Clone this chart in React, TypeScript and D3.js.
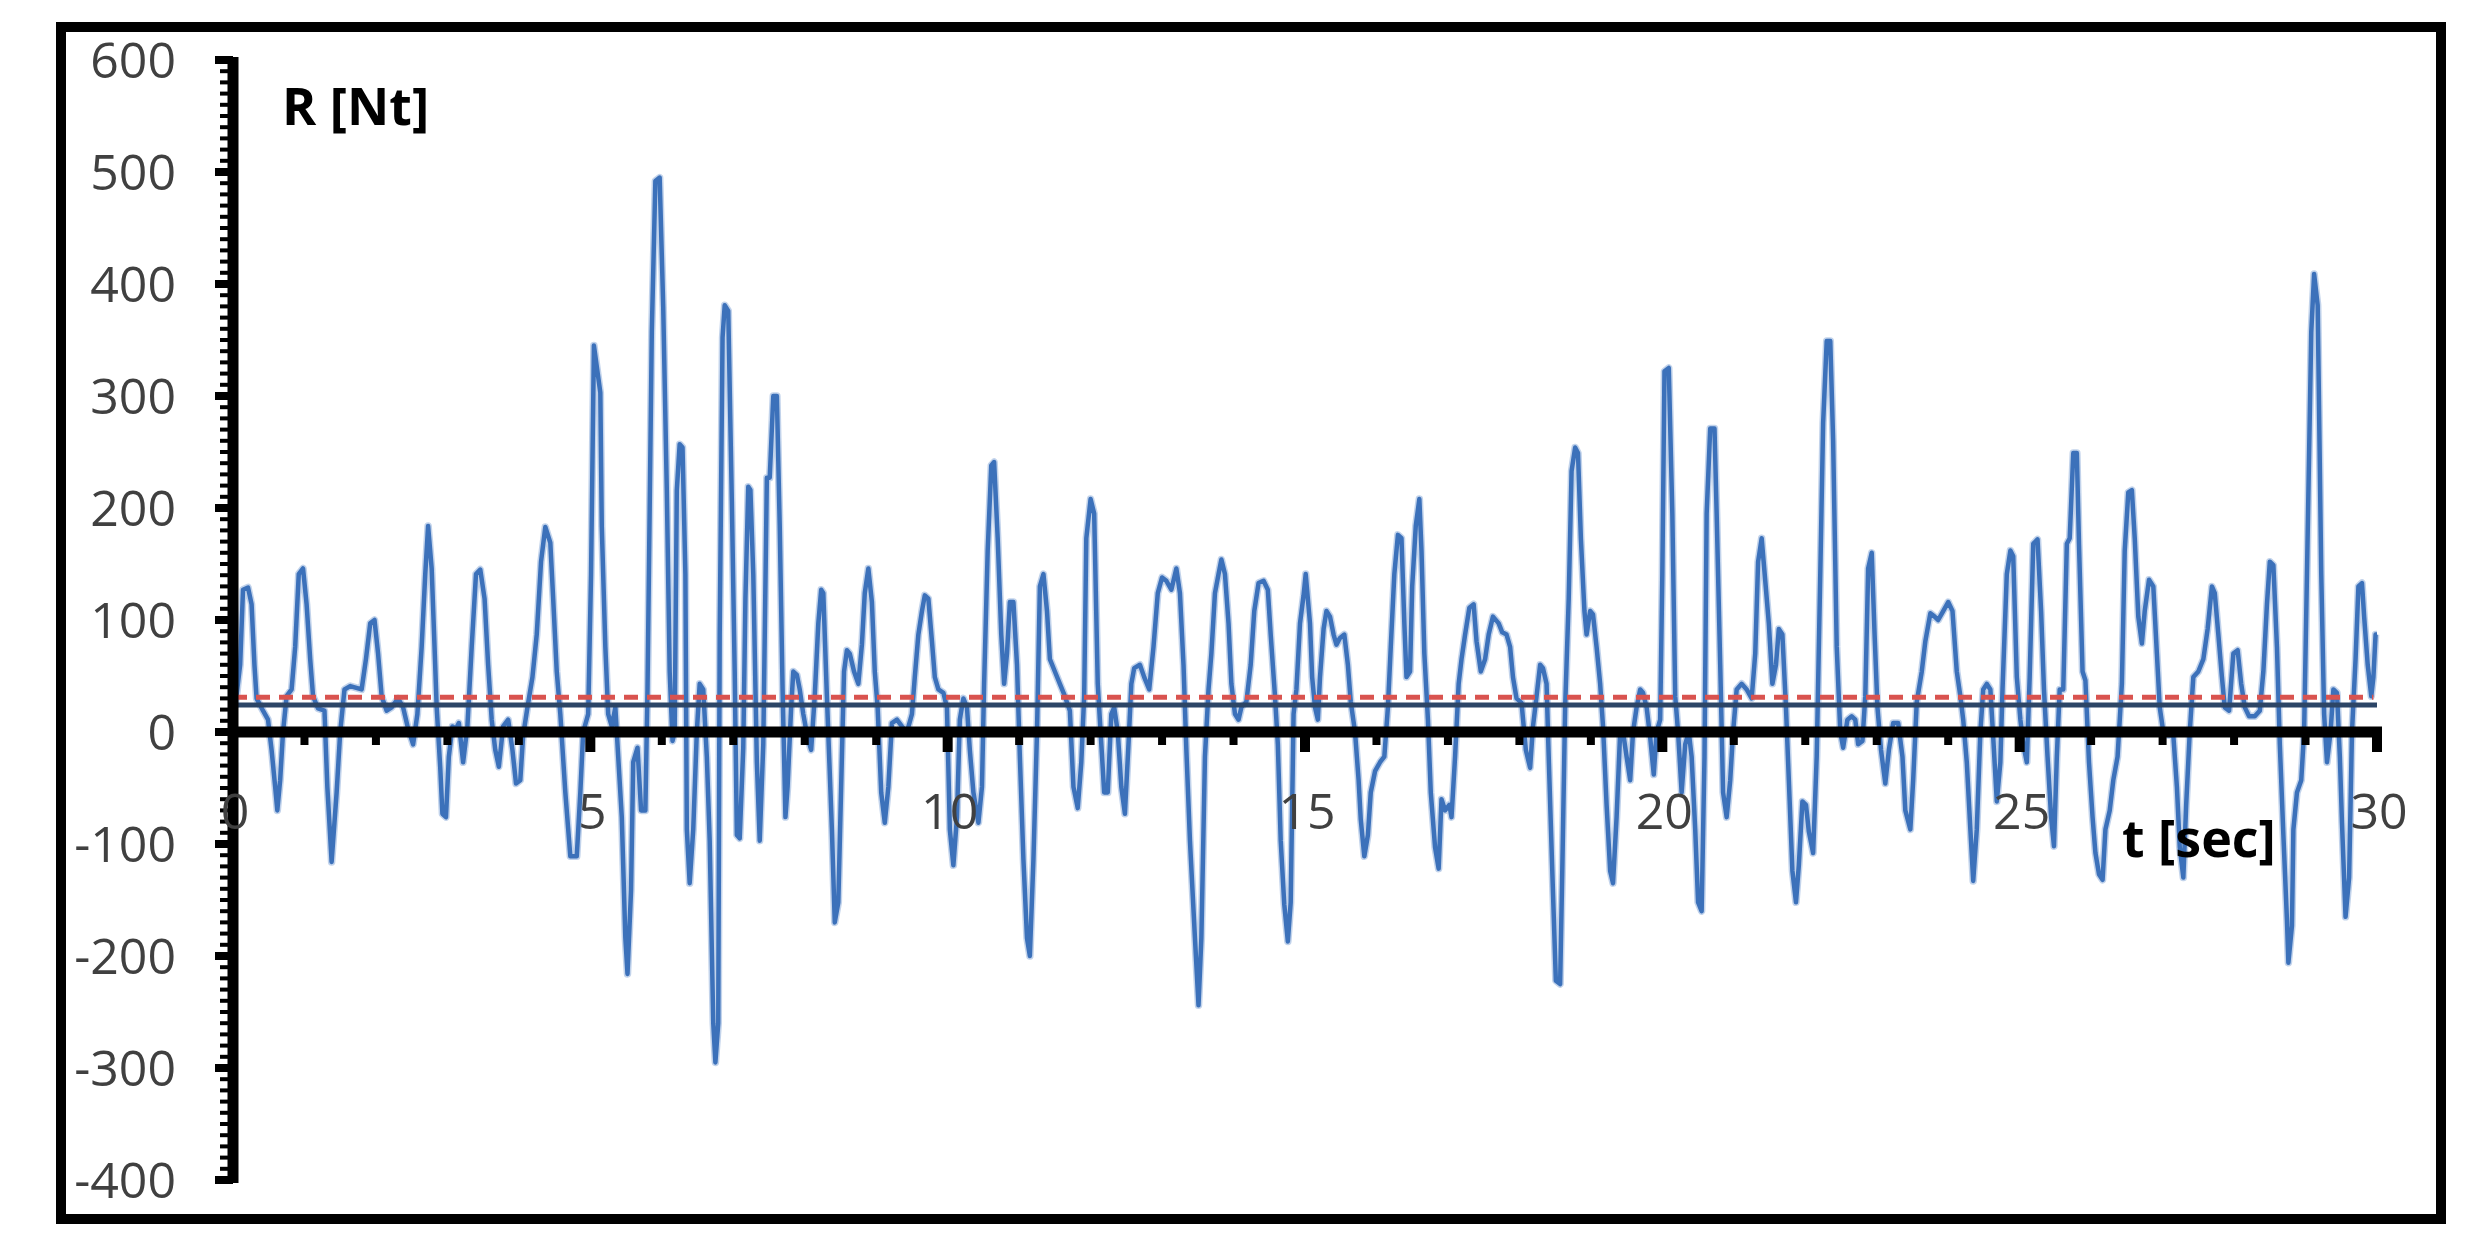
import React from "react";
import * as d3 from "d3";

type Pt = [number, number];

// R [Nt] vs t [sec], in 5-second pieces
const seg00to05: Pt[] = [[0.03,22],[0.10,60],[0.14,127],[0.21,129],[0.26,114],[0.30,60],[0.33,30],[0.42,19],[0.49,11],[0.54,-16],[0.59,-49],[0.62,-70],[0.66,-43],[0.70,0],[0.75,32],[0.82,38],[0.87,76],[0.92,141],[0.98,146],[1.03,114],[1.08,65],[1.12,32],[1.19,21],[1.28,19],[1.32,-49],[1.38,-116],[1.45,-54],[1.50,0],[1.56,38],[1.64,41],[1.80,38],[1.86,65],[1.92,97],[1.98,100],[2.03,70],[2.08,32],[2.15,19],[2.22,22],[2.31,30],[2.38,22],[2.45,3],[2.52,-11],[2.58,16],[2.64,76],[2.69,141],[2.73,184],[2.78,146],[2.82,76],[2.85,22],[2.90,-32],[2.93,-73],[2.98,-76],[3.02,-22],[3.07,5],[3.12,3],[3.16,8],[3.22,-27],[3.28,5],[3.34,76],[3.40,141],[3.46,145],[3.52,119],[3.57,60],[3.62,11],[3.67,-16],[3.72,-31],[3.78,5],[3.85,11],[3.91,-16],[3.96,-46],[4.02,-43],[4.06,-3],[4.12,22],[4.19,49],[4.25,87],[4.31,152],[4.37,183],[4.44,169],[4.48,119],[4.53,54],[4.58,16],[4.65,-54],[4.72,-111],[4.81,-111],[4.86,-54],[4.90,0],[4.97,16],[5.01,141]];

const seg05to10: Pt[] = [[5.05,345],[5.14,303],[5.16,184],[5.21,76],[5.25,16],[5.30,5],[5.35,22],[5.39,-22],[5.44,-76],[5.49,-184],[5.52,-216],[5.57,-141],[5.60,-27],[5.66,-14],[5.71,-70],[5.77,-70],[5.80,38],[5.86,357],[5.91,492],[5.97,495],[6.02,379],[6.07,216],[6.11,54],[6.15,-8],[6.18,0],[6.21,216],[6.25,257],[6.29,254],[6.33,141],[6.35,-87],[6.39,-135],[6.44,-87],[6.49,0],[6.53,43],[6.58,38],[6.63,-22],[6.67,-97],[6.72,-260],[6.75,-295],[6.79,-260],[6.81,87],[6.85,352],[6.88,381],[6.93,376],[6.98,206],[7.02,54],[7.05,-92],[7.09,-95],[7.14,-14],[7.17,119],[7.21,219],[7.24,216],[7.28,141],[7.33,-27],[7.37,-97],[7.42,-11],[7.47,227],[7.51,227],[7.56,300],[7.61,300],[7.65,184],[7.69,38],[7.73,-76],[7.76,-49],[7.81,22],[7.84,54],[7.89,51],[7.93,38],[7.98,16],[8.04,-5],[8.09,-16],[8.14,32],[8.19,97],[8.23,127],[8.26,124],[8.31,32],[8.38,-87],[8.42,-170],[8.47,-152],[8.52,-22],[8.55,54],[8.59,73],[8.63,70],[8.69,54],[8.75,43],[8.80,78],[8.84,124],[8.89,146],[8.94,116],[8.98,54],[9.02,22],[9.07,-54],[9.12,-81],[9.17,-49],[9.22,8],[9.29,11],[9.36,5],[9.43,0],[9.50,16],[9.54,49],[9.59,87],[9.64,108],[9.68,122],[9.73,119],[9.78,81],[9.82,49],[9.87,38],[9.94,35],[9.99,22]];

const seg10to15: Pt[] = [[10.03,-87],[10.08,-119],[10.13,-76],[10.17,11],[10.22,30],[10.27,22],[10.31,-16],[10.36,-54],[10.43,-81],[10.48,-49],[10.51,43],[10.56,162],[10.61,238],[10.65,241],[10.70,173],[10.75,87],[10.79,43],[10.83,70],[10.87,116],[10.92,116],[10.97,60],[11.01,-22],[11.06,-114],[11.11,-184],[11.15,-200],[11.20,-114],[11.25,0],[11.29,130],[11.34,141],[11.39,108],[11.43,65],[11.50,54],[11.57,43],[11.64,32],[11.71,19],[11.76,-49],[11.82,-68],[11.87,-27],[11.91,32],[11.94,173],[12.00,208],[12.05,195],[12.10,43],[12.14,0],[12.19,-54],[12.24,-54],[12.29,16],[12.33,22],[12.38,0],[12.43,-49],[12.48,-73],[12.53,-11],[12.57,43],[12.61,57],[12.69,60],[12.75,49],[12.82,38],[12.88,76],[12.94,124],[13.00,138],[13.06,135],[13.13,127],[13.20,146],[13.25,124],[13.30,60],[13.34,-16],[13.39,-97],[13.46,-184],[13.51,-244],[13.55,-184],[13.60,-22],[13.65,38],[13.69,70],[13.74,124],[13.79,141],[13.83,154],[13.88,141],[13.93,97],[13.97,43],[14.02,16],[14.07,11],[14.11,22],[14.18,27],[14.24,60],[14.29,108],[14.35,133],[14.42,135],[14.48,127],[14.52,87],[14.58,32],[14.62,-11],[14.66,-97],[14.71,-154],[14.76,-187],[14.80,-152],[14.84,16],[14.88,38],[14.93,97],[14.98,122],[15.01,141]];

const seg15to20: Pt[] = [[15.07,97],[15.10,49],[15.14,22],[15.18,11],[15.21,49],[15.26,92],[15.30,108],[15.35,103],[15.40,87],[15.44,78],[15.49,84],[15.55,87],[15.60,60],[15.64,27],[15.70,0],[15.75,-43],[15.78,-78],[15.83,-111],[15.88,-92],[15.92,-54],[15.98,-35],[16.05,-27],[16.11,-22],[16.16,22],[16.20,76],[16.25,141],[16.30,176],[16.35,173],[16.39,97],[16.42,49],[16.47,54],[16.50,130],[16.55,184],[16.60,208],[16.63,162],[16.67,70],[16.72,11],[16.76,-54],[16.82,-103],[16.87,-122],[16.91,-60],[16.96,-70],[17.02,-65],[17.05,-76],[17.10,-22],[17.15,43],[17.19,65],[17.24,87],[17.30,111],[17.36,114],[17.40,81],[17.46,54],[17.52,65],[17.57,87],[17.63,103],[17.71,97],[17.76,89],[17.82,87],[17.87,76],[17.91,49],[17.96,30],[18.03,26],[18.09,-16],[18.15,-32],[18.19,5],[18.24,32],[18.29,60],[18.33,57],[18.38,43],[18.41,-22],[18.46,-124],[18.51,-222],[18.57,-225],[18.60,-124],[18.64,22],[18.69,119],[18.73,233],[18.78,254],[18.82,249],[18.86,173],[18.91,108],[18.94,87],[18.99,108],[19.03,105],[19.08,76],[19.13,43],[19.17,5],[19.22,-65],[19.27,-124],[19.31,-135],[19.36,-76],[19.41,0],[19.45,0],[19.50,-22],[19.55,-43],[19.59,0],[19.64,22],[19.69,38],[19.73,35],[19.78,22],[19.83,-5],[19.88,-38],[19.92,0],[19.97,11],[20.00,141],[20.03,322],[20.09,325]];

const seg20to25: Pt[] = [[20.14,195],[20.18,32],[20.22,0],[20.27,-54],[20.32,-11],[20.37,0],[20.41,-22],[20.46,-87],[20.50,-152],[20.55,-160],[20.59,-22],[20.62,195],[20.67,271],[20.73,271],[20.76,195],[20.81,60],[20.85,-54],[20.90,-76],[20.95,-43],[20.99,0],[21.04,38],[21.11,43],[21.18,38],[21.25,30],[21.30,70],[21.34,152],[21.39,173],[21.44,135],[21.49,97],[21.54,43],[21.59,60],[21.63,92],[21.68,87],[21.73,22],[21.77,-43],[21.82,-124],[21.87,-152],[21.91,-119],[21.96,-62],[22.01,-65],[22.05,-89],[22.11,-108],[22.16,-22],[22.21,141],[22.25,276],[22.30,349],[22.35,349],[22.39,260],[22.44,76],[22.49,0],[22.53,-14],[22.59,11],[22.65,14],[22.70,11],[22.74,-11],[22.80,-8],[22.84,32],[22.88,146],[22.93,160],[22.97,87],[23.01,22],[23.06,-16],[23.12,-46],[23.17,-16],[23.23,8],[23.30,8],[23.36,-22],[23.40,-70],[23.47,-87],[23.51,-43],[23.56,27],[23.63,54],[23.68,81],[23.75,106],[23.81,103],[23.86,100],[23.93,108],[24.00,116],[24.06,108],[24.12,54],[24.17,32],[24.21,11],[24.26,-27],[24.31,-87],[24.35,-133],[24.40,-87],[24.45,0],[24.49,38],[24.54,43],[24.59,38],[24.63,-5],[24.68,-62],[24.73,-27],[24.76,38],[24.82,141],[24.87,162],[24.91,157],[24.96,49],[25.01,11],[25.05,-11],[25.10,-27],[25.14,49],[25.19,168]];

const seg25to30: Pt[] = [[25.25,172],[25.30,108],[25.34,38],[25.39,-22],[25.44,-76],[25.48,-102],[25.52,-22],[25.56,38],[25.61,38],[25.66,168],[25.70,173],[25.75,249],[25.80,249],[25.83,168],[25.88,54],[25.92,46],[25.97,-27],[26.02,-76],[26.06,-108],[26.11,-127],[26.16,-132],[26.20,-87],[26.26,-70],[26.31,-43],[26.37,-22],[26.43,43],[26.47,162],[26.52,214],[26.57,216],[26.61,173],[26.66,103],[26.71,79],[26.75,108],[26.81,136],[26.87,130],[26.92,70],[26.96,22],[27.01,0],[27.08,-3],[27.15,-3],[27.20,-49],[27.24,-103],[27.29,-130],[27.33,-65],[27.38,0],[27.43,49],[27.50,54],[27.57,65],[27.63,92],[27.69,130],[27.73,124],[27.78,87],[27.83,49],[27.87,22],[27.93,19],[27.99,70],[28.05,73],[28.10,43],[28.15,22],[28.21,14],[28.29,14],[28.36,19],[28.41,54],[28.46,114],[28.50,152],[28.55,149],[28.60,76],[28.64,-11],[28.69,-92],[28.74,-168],[28.76,-206],[28.81,-173],[28.83,-87],[28.88,-54],[28.94,-43],[28.98,0],[29.02,141],[29.08,357],[29.12,409],[29.17,381],[29.22,141],[29.26,16],[29.30,-27],[29.35,0],[29.39,38],[29.44,35],[29.48,-22],[29.51,-81],[29.56,-165],[29.61,-130],[29.65,0],[29.70,65],[29.74,130],[29.79,133],[29.82,103],[29.87,60],[29.92,32],[29.95,49],[29.98,87],[30.00,87]];

const yTickLabels = [600, 500, 400, 300, 200, 100, 0, -100, -200, -300, -400];
const xTickLabels = [0, 5, 10, 15, 20, 25, 30];
const dashedLevel = [31];
const solidLevel = [24];

export default function App() {
  const W = 2471;
  const H = 1253;
  const x = d3.scaleLinear().domain([0, 30]).range([233, 2377]);
  const y = d3.scaleLinear().domain([-400, 600]).range([1180, 60]);
  const data: Pt[] = [...seg00to05, ...seg05to10, ...seg10to15, ...seg15to20, ...seg20to25, ...seg25to30];
  const line = d3.line<Pt>().x((d) => x(d[0])).y((d) => y(d[1]));
  const minorY = y.ticks(100);
  const minorX = x.ticks(30);
  const font = "'Open Sans', 'DejaVu Sans', sans-serif";
  const x0 = x(0);
  const yz = y(0);
  const pathD = line(data) || "";

  return (
    <svg width={W} height={H} style={{ position: "absolute", left: 0, top: 0, background: "#fff" }}>
      <rect x={0} y={0} width={W} height={H} fill="#fff" />
      <rect x={61} y={27} width={2380} height={1192} fill="none" stroke="#000" strokeWidth={10} />

      {/* data line with a soft halo, as in the reference */}
      <path d={pathD} fill="none" stroke="#a8c0e2" strokeWidth={7.5} strokeLinejoin="round" opacity={0.7} />
      <path d={pathD} fill="none" stroke="#3c71ba" strokeWidth={4.5} strokeLinejoin="round" />

      {/* reference levels */}
      {solidLevel.map((v, i) => (
        <line key={"s" + i} x1={x0} x2={x(30)} y1={y(v)} y2={y(v)} stroke="#2c4566" strokeWidth={5} />
      ))}
      {dashedLevel.map((v, i) => (
        <line key={"d" + i} x1={x0} x2={x(29.95)} y1={y(v)} y2={y(v)} stroke="#d9534f" strokeWidth={5} strokeDasharray="14 9" />
      ))}

      {/* y axis */}
      {minorY.map((v) => {
        const major = v % 100 === 0;
        return (
          <line key={"yt" + v} x1={major ? x0 - 18 : x0 - 13} x2={x0} y1={y(v)} y2={y(v)} stroke="#000" strokeWidth={major ? 8 : 4} />
        );
      })}
      <line x1={x0} x2={x0} y1={y(600) - 3} y2={y(-400) + 3} stroke="#000" strokeWidth={11} />

      {/* x axis */}
      {minorX.map((t) => {
        const major = t % 5 === 0;
        return (
          <line key={"xt" + t} x1={x(t)} x2={x(t)} y1={yz} y2={yz + (major ? 20 : 13)} stroke="#000" strokeWidth={major ? 10 : 8} />
        );
      })}
      <line x1={x0 - 5} x2={x(30) + 5} y1={yz} y2={yz} stroke="#000" strokeWidth={11} />

      {/* tick labels */}
      {yTickLabels.map((v) => (
        <text key={"yl" + v} x={176} y={y(v) + 18} textAnchor="end" fontFamily={font} fontSize={50} fill="#404040">
          {v}
        </text>
      ))}
      {xTickLabels.map((t) => (
        <text key={"xl" + t} x={x(t) + 2} y={829} textAnchor="middle" fontFamily={font} fontSize={50} fill="#404040">
          {t}
        </text>
      ))}

      {/* axis titles */}
      <text x={282} y={125} fontFamily={font} fontSize={52} fontWeight="bold" fill="#000">
        R [Nt]
      </text>
      <text x={2122} y={857} fontFamily={font} fontSize={52} fontWeight="bold" fill="#000">
        t [sec]
      </text>
    </svg>
  );
}
